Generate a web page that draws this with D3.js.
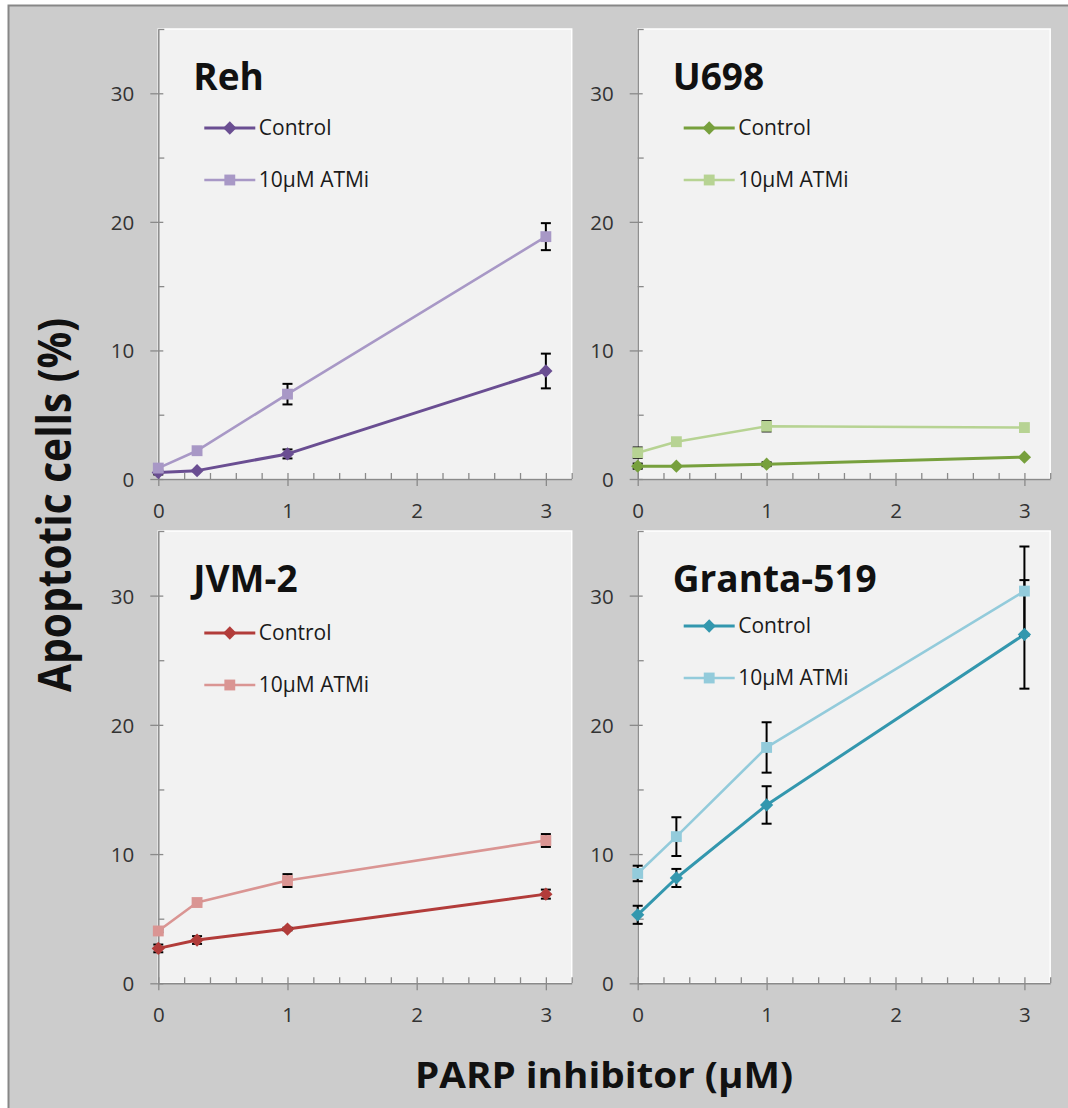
<!DOCTYPE html>
<html>
<head>
<meta charset="utf-8">
<script src="https://cdn.jsdelivr.net/npm/d3@7"></script>
<style>
  html, body { margin: 0; padding: 0; background: #ffffff; }
  svg { display: block; }
  text { font-family: "Open Sans", "DejaVu Sans", sans-serif; }
</style>
</head>
<body>
<svg id="chart" width="1068" height="1108"></svg>
<script>
// PARP inhibitor doses (µM)
const doses = [0, 0.3, 1, 3];
const xTickLabels = ["0", "1", "2", "3"];
const yTickLabels = ["0", "10", "20", "30"];

const cellLines = ["Reh", "U698", "JVM-2", "Granta-519"];
const seriesNames = ["Control", "10\u03bcM ATMi"];

// Apoptotic cells (%) with error (±)
const rehControl      = [0.5, 0.65, 1.95, 8.4];
const rehControlErr   = [0.15, 0, 0.35, 1.35];
const rehATMi         = [0.85, 2.2, 6.6, 18.85];
const rehATMiErr      = [0, 0, 0.8, 1.05];

const u698Control     = [1.0, 1.0, 1.15, 1.7];
const u698ControlErr  = [0.2, 0, 0.15, 0];
const u698ATMi        = [2.05, 2.9, 4.1, 4.0];
const u698ATMiErr     = [0.4, 0, 0.4, 0];

const jvmControl      = [2.7, 3.35, 4.2, 6.9];
const jvmControlErr   = [0.3, 0.3, 0.1, 0.35];
const jvmATMi         = [4.05, 6.25, 7.95, 11.05];
const jvmATMiErr      = [0.1, 0.1, 0.5, 0.5];

const grantaControl   = [5.3, 8.15, 13.8, 27.0];
const grantaControlErr= [0.7, 0.7, 1.45, 4.2];
const grantaATMi      = [8.5, 11.35, 18.25, 30.35];
const grantaATMiErr   = [0.6, 1.5, 1.95, 3.45];

const controlColors = ["#6a4e92", "#77a03d", "#b23c3a", "#3397ae"];
const atmiColors    = ["#a898c6", "#b7d393", "#da9593", "#93cbdb"];

const panelData = [
  [rehControl, rehControlErr, rehATMi, rehATMiErr],
  [u698Control, u698ControlErr, u698ATMi, u698ATMiErr],
  [jvmControl, jvmControlErr, jvmATMi, jvmATMiErr],
  [grantaControl, grantaControlErr, grantaATMi, grantaATMiErr]
];

// ---- layout ----
const panelLeft   = [158.3, 637.7, 158.3, 637.7];
const panelTop    = [29, 29, 531, 531];
const panelWidth  = [413.4, 412.5, 413.4, 412.5];
const panelHeight = [450, 450, 452.3, 452.3];
const legendTop   = [99, 99, 102, 95];

const svg = d3.select("#chart");

// outer frame
svg.append("rect")
  .attr("x", 8.5).attr("y", 5.5)
  .attr("width", 1100).attr("height", 1150)
  .attr("fill", "#cccccc")
  .attr("stroke", "#878787").attr("stroke-width", 2);

const axisColor = "#8a8a8a";

// marker shapes: diamond is a square turned 45°
const diamondPath = d3.symbol().type(d3.symbolSquare).size(88)();
const squarePath = d3.symbol().type(d3.symbolSquare).size(118)();
const markerPath = shape => shape === "diamond" ? diamondPath : squarePath;
const markerRot = shape => shape === "diamond" ? " rotate(45)" : "";

cellLines.forEach((name, i) => {
  const L = panelLeft[i], T = panelTop[i], W = panelWidth[i], H = panelHeight[i];
  const g = svg.append("g").attr("transform", `translate(${L},${T})`);

  const x = d3.scaleLinear().domain([0, 3.2]).range([0, W]);
  const y = d3.scaleLinear().domain([0, 35]).range([H, 0]);

  // plot area
  g.append("rect").attr("x", 0).attr("y", 0).attr("width", W).attr("height", H)
    .attr("fill", "#f2f2f2").attr("stroke", "#ffffff").attr("stroke-width", 1.5);

  // minor ticks (inside)
  const xMinor = d3.range(0, 3.2001, 0.2).filter(v => Math.abs(v - Math.round(v)) > 1e-6 || v > 3.1);
  const yMinor = [5, 15, 25, 35];

  g.append("g")
    .attr("transform", `translate(0,${H})`)
    .call(d3.axisTop(x).tickValues(xMinor).tickSize(6).tickFormat(""))
    .call(s => s.select(".domain").remove())
    .selectAll("line").attr("stroke", axisColor).attr("stroke-width", 1.3);

  g.append("g")
    .call(d3.axisRight(y).tickValues(yMinor).tickSize(6).tickFormat(""))
    .call(s => s.select(".domain").remove())
    .selectAll("line").attr("stroke", axisColor).attr("stroke-width", 1.3);

  // major x axis
  const xAxis = g.append("g")
    .attr("transform", `translate(0,${H})`)
    .call(d3.axisBottom(x).tickValues([0, 1, 2, 3]).tickSize(7).tickPadding(0)
      .tickFormat((d, k) => xTickLabels[k]).tickSizeOuter(0));
  xAxis.select(".domain").attr("stroke", axisColor).attr("stroke-width", 1.5);
  xAxis.selectAll(".tick line").attr("stroke", axisColor).attr("stroke-width", 1.3).attr("y1", -6);
  xAxis.selectAll(".tick text")
    .attr("y", 38.5).attr("dy", null)
    .attr("fill", "#333333").attr("font-size", 20.5);

  // major y axis
  const yAxis = g.append("g")
    .call(d3.axisLeft(y).tickValues([0, 10, 20, 30]).tickSize(8).tickPadding(0)
      .tickFormat((d, k) => yTickLabels[k]).tickSizeOuter(0));
  yAxis.select(".domain").attr("stroke", axisColor).attr("stroke-width", 1.5);
  yAxis.selectAll(".tick line").attr("stroke", axisColor).attr("stroke-width", 1.3).attr("x1", 5);
  yAxis.selectAll(".tick text")
    .attr("x", -24).attr("dy", "0.36em")
    .attr("fill", "#333333").attr("font-size", 20.5);

  // title
  g.append("text")
    .attr("x", 35).attr("y", 60.5)
    .attr("font-size", 37).attr("font-weight", "bold").attr("fill", "#111111")
    .text(name);

  const [ctl, ctlErr, atm, atmErr] = panelData[i];
  const series = [
    { vals: ctl, err: ctlErr, color: controlColors[i], width: 3, shape: "diamond" },
    { vals: atm, err: atmErr, color: atmiColors[i], width: 2.6, shape: "square" }
  ];

  const line = d3.line().x(d => x(d[0])).y(d => y(d[1]));

  series.forEach(s => {
    g.append("path")
      .datum(doses.map((d, k) => [d, s.vals[k]]))
      .attr("d", line)
      .attr("fill", "none").attr("stroke", s.color).attr("stroke-width", s.width)
      .attr("stroke-linejoin", "round");
  });

  // error bars
  series.forEach(s => {
    const eb = g.append("g").attr("stroke", "#000000").attr("stroke-width", 2);
    doses.forEach((d, k) => {
      const e = s.err[k];
      if (!e) return;
      const cx = x(d), hi = y(s.vals[k] + e), lo = y(s.vals[k] - e);
      eb.append("line").attr("x1", cx).attr("x2", cx).attr("y1", hi).attr("y2", lo);
      eb.append("line").attr("x1", cx - 5).attr("x2", cx + 5).attr("y1", hi).attr("y2", hi);
      eb.append("line").attr("x1", cx - 5).attr("x2", cx + 5).attr("y1", lo).attr("y2", lo);
    });
  });

  // markers
  series.forEach(s => {
    g.append("g").selectAll("path")
      .data(doses.map((d, k) => [d, s.vals[k]]))
      .join("path")
      .attr("transform", d => `translate(${x(d[0])},${y(d[1])})${markerRot(s.shape)}`)
      .attr("d", markerPath(s.shape))
      .attr("fill", s.color);
  });

  // legend
  series.forEach((s, k) => {
    const ly = legendTop[i] + k * 52;
    g.append("line")
      .attr("x1", 46).attr("x2", 97).attr("y1", ly).attr("y2", ly)
      .attr("stroke", s.color).attr("stroke-width", s.width);
    g.append("path")
      .attr("transform", `translate(71.5,${ly})${markerRot(s.shape)}`)
      .attr("d", markerPath(s.shape))
      .attr("fill", s.color);
    g.append("text")
      .attr("x", 100.5).attr("y", ly).attr("dy", "0.35em")
      .attr("font-size", 21).attr("fill", "#1a1a1a")
      .text(seriesNames[k]);
  });
});

// axis titles
svg.append("text")
  .attr("transform", "translate(71,505) rotate(-90)")
  .attr("text-anchor", "middle")
  .attr("font-size", 47).attr("font-weight", "bold").attr("fill", "#111111")
  .attr("textLength", 374).attr("lengthAdjust", "spacingAndGlyphs")
  .text("Apoptotic cells (%)");

svg.append("text")
  .attr("x", 604).attr("y", 1088)
  .attr("text-anchor", "middle")
  .attr("font-size", 36).attr("font-weight", "bold").attr("fill", "#111111")
  .attr("textLength", 378).attr("lengthAdjust", "spacingAndGlyphs")
  .text("PARP inhibitor (\u03bcM)");
</script>
</body>
</html>
